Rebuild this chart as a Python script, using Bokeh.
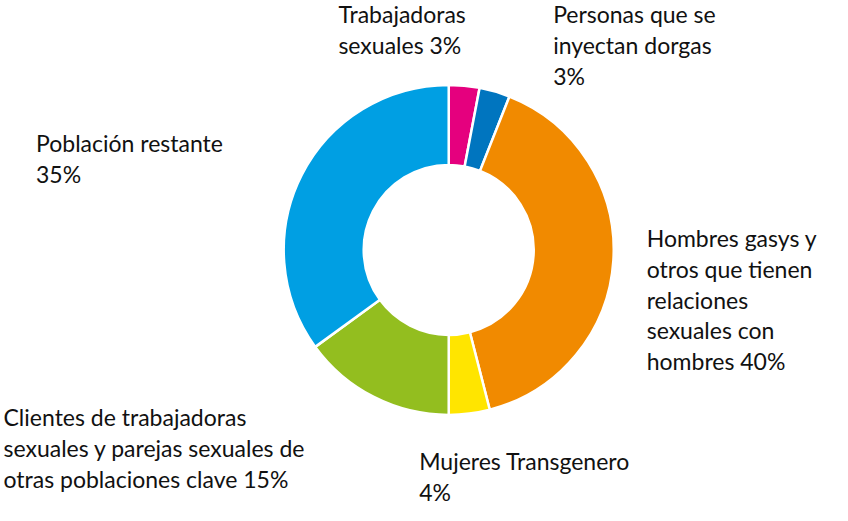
from bokeh.plotting import figure
from bokeh.models import Range1d, ColumnDataSource
from bokeh.core.properties import value
from bokeh.embed import file_html
from bokeh.resources import INLINE
import math

# ---- data ----
categories = ["Trabajadoras sexuales", "Personas que se inyectan dorgas",
              "Hombres gasys y otros", "Mujeres Transgenero",
              "Clientes de trabajadoras", "Población restante"]
shares = [3, 3, 40, 4, 15, 35]
colors = ["#E5007E", "#0075BF", "#F18A00", "#FFE500", "#93BE1F", "#009FE3"]
label_lines = [
    ["Trabajadoras", "sexuales  3%"],
    ["Personas que se", "inyectan dorgas", "3%"],
    ["Hombres gasys y", "otros que tienen", "relaciones", "sexuales con", "hombres 40%"],
    ["Mujeres Transgenero", "4%"],
    ["Clientes de trabajadoras", "sexuales y parejas sexuales  de", "otras poblaciones clave 15%"],
    ["Población restante", "35%"],
]

# ---- layout (reference pixel coords, mapped into the canvas) ----
W, H = 832, 505
label_pos = [(355, 28), (573, 28), (668, 257), (437, 485), (15, 440), (48, 160)]
line_step = 31.5
cx, cy = 467, 259
r_out, r_in = 165, 85
SX, SY = 0.985, 0.978
TEXT_DY = 10  # compensate baseline placement

def X(x):
    return (x - 15) * SX + 3

def Y(y):
    return H - (y - 4) * SY

p = figure(width=W, height=H, output_backend="svg", toolbar_location=None,
           x_range=Range1d(0, W), y_range=Range1d(0, H), min_border=0)
p.axis.visible = False
p.grid.visible = False
p.outline_line_color = None
p.background_fill_color = "white"

total = float(sum(shares))
starts, ends = [], []
cum = 0.0
for s in shares:
    starts.append(math.pi / 2 - 2 * math.pi * cum / total)
    cum += s
    ends.append(math.pi / 2 - 2 * math.pi * cum / total)

src = ColumnDataSource(dict(x=[X(cx)] * len(shares), y=[Y(cy)] * len(shares),
                            start=starts, end=ends, color=colors))
p.annular_wedge(x="x", y="y", inner_radius=r_in, outer_radius=r_out,
                start_angle="start", end_angle="end", direction="clock",
                fill_color="color", line_color="white", line_width=2.5,
                source=src)

tx, ty, tt = [], [], []
for lines, (lx, ly) in zip(label_lines, label_pos):
    for i, ln in enumerate(lines):
        tx.append(X(lx))
        ty.append(Y(ly + i * line_step) + TEXT_DY)
        tt.append(ln)
p.text(x=tx, y=ty, text=tt, text_font=value("Lato"), text_font_size="23px",
       text_color="#111111", text_align="left", text_baseline="alphabetic")

open("out.html", "w").write(file_html(p, INLINE))
